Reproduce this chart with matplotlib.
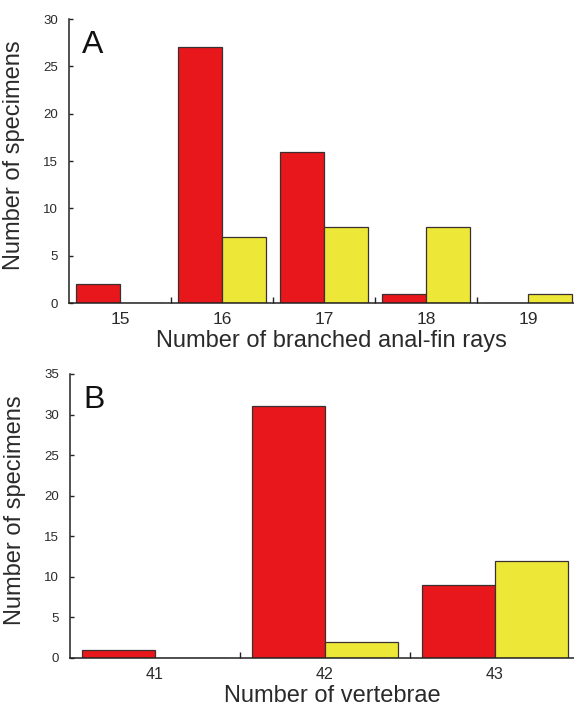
import matplotlib
matplotlib.use('Agg')
import matplotlib.pyplot as plt
import numpy as np

plt.rcParams['font.family'] = ['Liberation Sans', 'DejaVu Sans']

# branched anal-fin rays
fin_rays = [15, 16, 17, 18, 19]
fin_red = [2, 27, 16, 1, 0]
fin_yellow = [0, 7, 8, 8, 1]

# vertebrae
vertebrae = [41, 42, 43]
vert_red = [1, 31, 9]
vert_yellow = [0, 2, 12]

red = '#e8171b'
yellow = '#ede838'
edge = '#3a3030'
text_col = '#2a2a2a'

fig = plt.figure(figsize=(5.74, 7.09), dpi=100)
W, H = 574, 709


def panel(rect_px, cats, reds, yellows, ymax, xlab, letter, xtick_size):
    left, top, right, bottom = rect_px
    ax = fig.add_axes([left / W, 1 - bottom / H, (right - left) / W, (bottom - top) / H])
    x = np.array(cats, dtype=float)
    bw = 0.43
    ax.bar(x - bw / 2, reds, width=bw, color=red, edgecolor=edge, linewidth=0.9)
    ax.bar(x + bw / 2, yellows, width=bw, color=yellow, edgecolor=edge, linewidth=0.9)

    ax.set_xlim(cats[0] - 0.5, cats[-1] + 0.5)
    ax.set_ylim(0, ymax)
    ax.set_yticks(np.arange(0, ymax + 1, 5))
    ax.set_xticks(cats)
    # small ticks between the groups
    ax.set_xticks(x[:-1] + 0.5, minor=True)

    for s in ['top', 'right']:
        ax.spines[s].set_visible(False)
    for s in ['left', 'bottom']:
        ax.spines[s].set_linewidth(1.1)
        ax.spines[s].set_color('#222222')

    ax.tick_params(axis='y', direction='in', length=3, width=1, pad=8,
                   labelsize=9.5, labelcolor=text_col, color='#222222')
    ax.tick_params(axis='x', which='major', length=0, pad=6.5,
                   labelsize=xtick_size, labelcolor=text_col)
    ax.tick_params(axis='x', which='minor', direction='in', length=4, width=1,
                   color='#222222')

    ax.set_ylabel('Number of specimens', fontsize=17, color=text_col)
    ax.yaxis.set_label_coords(-0.086, 0.52)
    ax.set_xlabel(xlab, fontsize=17, color=text_col)
    ax.xaxis.set_label_coords(0.515, -0.095)

    ax.text(0.026, 0.88, letter, transform=ax.transAxes, fontsize=23,
            ha='left', va='baseline', color='#111111')
    return ax


panel((69, 19, 579, 303), fin_rays, fin_red, fin_yellow, 30,
      'Number of branched anal-fin rays', 'A', 12.5)
panel((70, 374, 580, 658), vertebrae, vert_red, vert_yellow, 35,
      'Number of vertebrae', 'B', 11.5)

fig.savefig('out.png', dpi=100)
